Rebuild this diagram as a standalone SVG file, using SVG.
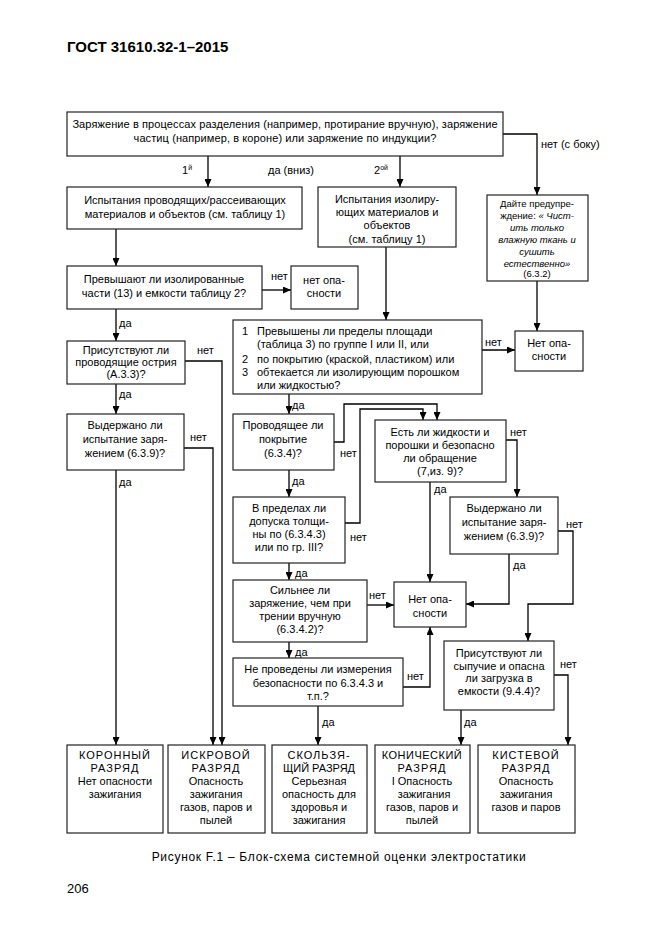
<svg xmlns="http://www.w3.org/2000/svg" width="661" height="935" viewBox="0 0 661 935">
<defs>
<marker id="ah" markerUnits="userSpaceOnUse" markerWidth="8" markerHeight="7" refX="8" refY="3.5" orient="auto">
<path d="M0,0 L8,3.5 L0,7 z" fill="#000"/>
</marker>
<style>
.b{fill:#fff;stroke:#222;stroke-width:1.2}
.c{fill:none;stroke:#000;stroke-width:1.3}
.a{marker-end:url(#ah)}
text{font-family:"Liberation Sans",Arial,sans-serif;font-size:11px;fill:#000}
.m{text-anchor:middle}
.s{font-size:9.5px}
.i{font-style:italic}
.sp{letter-spacing:1px}
.sq{letter-spacing:0.5px}
</style>
</defs>
<rect width="661" height="935" fill="#fff"/>
<text x="67" y="52" style="font-size:15px;font-weight:bold">ГОСТ 31610.32-1–2015</text>

<g id="connectors">
<path class="c a" d="M208,156 V187"/>
<path class="c a" d="M400,156 V187"/>
<path class="c a" d="M503,134 H537 V195"/>
<path class="c a" d="M116,229 V266"/>
<path class="c a" d="M386,247 V320"/>
<path class="c a" d="M262,290 H291"/>
<path class="c a" d="M482,350 H515"/>
<path class="c a" d="M537,281 V331"/>
<path class="c a" d="M116,309 V341"/>
<path class="c a" d="M185,361 H222 V745"/>
<path class="c a" d="M116,384 V414"/>
<path class="c a" d="M184,448 H213 V745"/>
<path class="c a" d="M116,470 V745"/>
<path class="c a" d="M289,394 V414"/>
<path class="c a" d="M334,442 H344 V404 H437 V420"/>
<path class="c a" d="M289,470 V497"/>
<path class="c a" d="M345,523 H360 V409 H423 V420"/>
<path class="c a" d="M289,563 V580"/>
<path class="c a" d="M367,605 H394"/>
<path class="c a" d="M289,642 V658"/>
<path class="c a" d="M403,687 H430 V627"/>
<path class="c a" d="M318,706 V745"/>
<path class="c a" d="M506,440 H517 V497"/>
<path class="c a" d="M430,482 V582"/>
<path class="c a" d="M558,531 H573 V604 H528 V641"/>
<path class="c a" d="M509,554 V604 H466"/>
<path class="c a" d="M554,675 H568 V745"/>
<path class="c a" d="M461,710 V745"/>
</g>

<g id="labels">
<text x="541" y="148">нет (с боку)</text>
<text x="182" y="174">1<tspan style="font-size:7px" dy="-4">й</tspan></text>
<text x="268" y="174">да (вниз)</text>
<text x="374" y="174">2<tspan style="font-size:7px" dy="-4">ой</tspan></text>
<text x="271" y="280">нет</text>
<text x="485" y="346">нет</text>
<text x="119" y="327">да</text>
<text x="197" y="354">нет</text>
<text x="119" y="398">да</text>
<text x="190" y="441">нет</text>
<text x="119" y="486">да</text>
<text x="292" y="409">да</text>
<text x="340" y="457">нет</text>
<text x="292" y="485">да</text>
<text x="350" y="541">нет</text>
<text x="295" y="577">да</text>
<text x="369" y="599">нет</text>
<text x="295" y="656">да</text>
<text x="407" y="680">нет</text>
<text x="322" y="726">да</text>
<text x="510" y="436">нет</text>
<text x="434" y="493">да</text>
<text x="566" y="528">нет</text>
<text x="513" y="569">да</text>
<text x="560" y="668">нет</text>
<text x="464" y="726">да</text>
</g>

<g id="n-top">
<rect class="b" x="67" y="112" width="436" height="44"/>
<text class="m" x="285" y="128" style="letter-spacing:0.1px">Заряжение в процессах разделения (например, протирание вручную), заряжение</text>
<text class="m" x="285" y="142" style="letter-spacing:0.1px">частиц (например, в короне) или заряжение по индукции?</text>
</g>
<g id="n-conductive">
<rect class="b" x="67" y="187" width="235" height="42"/>
<text class="m" x="185" y="204">Испытания проводящих/рассеивающих</text>
<text class="m" x="185" y="218">материалов и объектов (см. таблицу 1)</text>
</g>
<g id="n-insulating">
<rect class="b" x="318" y="187" width="138" height="60"/>
<text class="m" x="387" y="203">Испытания изолиру-</text>
<text class="m" x="387" y="216">ющих материалов и</text>
<text class="m" x="387" y="229">объектов</text>
<text class="m" x="387" y="243">(см. таблицу 1)</text>
</g>
<g id="n-warning">
<rect class="b" x="487" y="195" width="101" height="86"/>
<text class="m s" x="537" y="207">Дайте предупре-</text>
<text class="m s" x="537" y="219">ждение: <tspan class="i">« Чист-</tspan></text>
<text class="m s i" x="537" y="231">ить только</text>
<text class="m s i" x="537" y="243">влажную ткань и</text>
<text class="m s i" x="537" y="255">сушить</text>
<text class="m s i" x="537" y="267">естественно»</text>
<text class="m s" x="537" y="277">(6.3.2)</text>
</g>
<g id="n-exceed">
<rect class="b" x="67" y="266" width="195" height="43"/>
<text class="m" x="164" y="283">Превышают ли изолированные</text>
<text class="m" x="164" y="297">части (13) и емкости таблицу 2?</text>
</g>
<g id="n-nohaz1">
<rect class="b" x="291" y="266" width="67" height="43"/>
<text class="m" x="324" y="284">нет опа-</text>
<text class="m" x="324" y="297">сности</text>
</g>
<g id="n-limits">
<rect class="b" x="233" y="320" width="249" height="74"/>
<text x="242" y="335">1</text>
<text x="257" y="335">Превышены ли пределы площади</text>
<text x="257" y="348">(таблица 3) по  группе I или II, или</text>
<text x="242" y="363">2</text>
<text x="257" y="363">по покрытию (краской, пластиком) или</text>
<text x="242" y="376">3</text>
<text x="257" y="376">обтекается ли изолирующим порошком</text>
<text x="257" y="389">или жидкостью?</text>
</g>
<g id="n-nohaz2">
<rect class="b" x="515" y="331" width="68" height="40"/>
<text class="m" x="549" y="347">Нет опа-</text>
<text class="m" x="549" y="360">сности</text>
</g>
<g id="n-points">
<rect class="b" x="67" y="341" width="118" height="43"/>
<text class="m" x="126" y="354">Присутствуют ли</text>
<text class="m" x="126" y="366">проводящие острия</text>
<text class="m" x="126" y="378">(А.3.3)?</text>
</g>
<g id="n-test1">
<rect class="b" x="67" y="414" width="117" height="56"/>
<text class="m" x="125" y="429">Выдержано ли</text>
<text class="m" x="125" y="443">испытание заря-</text>
<text class="m" x="125" y="457">жением (6.3.9)?</text>
</g>
<g id="n-coating">
<rect class="b" x="233" y="414" width="101" height="56"/>
<text class="m" x="283" y="429">Проводящее ли</text>
<text class="m" x="283" y="443">покрытие</text>
<text class="m" x="283" y="457">(6.3.4)?</text>
</g>
<g id="n-tolerance">
<rect class="b" x="233" y="497" width="112" height="66"/>
<text class="m" x="289" y="512">В пределах ли</text>
<text class="m" x="289" y="525">допуска толщи-</text>
<text class="m" x="289" y="538">ны по (6.3.4.3)</text>
<text class="m" x="289" y="551">или по гр. III?</text>
</g>
<g id="n-stronger">
<rect class="b" x="233" y="580" width="134" height="62"/>
<text class="m" x="300" y="594">Сильнее ли</text>
<text class="m" x="300" y="607">заряжение, чем при</text>
<text class="m" x="300" y="620">трении вручную</text>
<text class="m" x="300" y="633">(6.3.4.2)?</text>
</g>
<g id="n-measure">
<rect class="b" x="233" y="658" width="170" height="48"/>
<text class="m" x="318" y="673">Не проведены ли измерения</text>
<text class="m" x="318" y="687">безопасности по 6.3.4.3 и</text>
<text class="m" x="318" y="700">т.п.?</text>
</g>
<g id="n-liquids">
<rect class="b" x="375" y="420" width="131" height="62"/>
<text class="m" x="440" y="436">Есть ли жидкости и</text>
<text class="m" x="440" y="449">порошки и безопасно</text>
<text class="m" x="440" y="462">ли обращение</text>
<text class="m" x="440" y="475">(7,из. 9)?</text>
</g>
<g id="n-nohaz3">
<rect class="b" x="394" y="582" width="72" height="45"/>
<text class="m" x="430" y="603">Нет опа-</text>
<text class="m" x="430" y="617">сности</text>
</g>
<g id="n-test2">
<rect class="b" x="450" y="497" width="108" height="57"/>
<text class="m" x="504" y="512">Выдержано ли</text>
<text class="m" x="504" y="526">испытание заря-</text>
<text class="m" x="504" y="540">жением (6.3.9)?</text>
</g>
<g id="n-bulk">
<rect class="b" x="444" y="641" width="110" height="69"/>
<text class="m" x="499" y="657">Присутствуют ли</text>
<text class="m" x="499" y="670">сыпучие и опасна</text>
<text class="m" x="499" y="682">ли загрузка  в</text>
<text class="m" x="499" y="695">емкости (9.4.4)?</text>
</g>
<g id="n-corona">
<rect class="b" x="67" y="745" width="96" height="88"/>
<text class="m sp" x="115" y="759">КОРОННЫЙ</text>
<text class="m sp" x="115" y="772">РАЗРЯД</text>
<text class="m" x="115" y="785">Нет опасности</text>
<text class="m" x="115" y="798">зажигания</text>
</g>
<g id="n-spark">
<rect class="b" x="168" y="745" width="97" height="88"/>
<text class="m sp" x="216" y="759">ИСКРОВОЙ</text>
<text class="m sp" x="216" y="772">РАЗРЯД</text>
<text class="m" x="216" y="785">Опасность</text>
<text class="m" x="216" y="798">зажигания</text>
<text class="m" x="216" y="811">газов, паров и</text>
<text class="m" x="216" y="824">пылей</text>
</g>
<g id="n-sliding">
<rect class="b" x="272" y="745" width="95" height="88"/>
<text class="m sp" x="319" y="759">СКОЛЬЗЯ-</text>
<text class="m" x="319" y="772">ЩИЙ РАЗРЯД</text>
<text class="m" x="319" y="785">Серьезная</text>
<text class="m" x="319" y="798">опасность для</text>
<text class="m" x="319" y="811">здоровья и</text>
<text class="m" x="319" y="824">зажигания</text>
</g>
<g id="n-cone">
<rect class="b" x="375" y="745" width="95" height="88"/>
<text class="m sq" x="422" y="759">КОНИЧЕСКИЙ</text>
<text class="m sp" x="422" y="772">РАЗРЯД</text>
<text class="m" x="422" y="785">I Опасность</text>
<text class="m" x="424" y="798">зажигания</text>
<text class="m" x="422" y="811">газов, паров и</text>
<text class="m" x="422" y="824">пылей</text>
</g>
<g id="n-brush">
<rect class="b" x="478" y="745" width="97" height="88"/>
<text class="m sp" x="526" y="759">КИСТЕВОЙ</text>
<text class="m sp" x="526" y="772">РАЗРЯД</text>
<text class="m" x="526" y="785">Опасность</text>
<text class="m" x="526" y="798">зажигания</text>
<text class="m" x="526" y="811">газов и паров</text>
</g>

<text class="m" x="339" y="861" style="font-size:12px;letter-spacing:0.7px">Рисунок F.1 – Блок-схема системной оценки электростатики</text>
<text x="67" y="893" style="font-size:13px">206</text>
</svg>
